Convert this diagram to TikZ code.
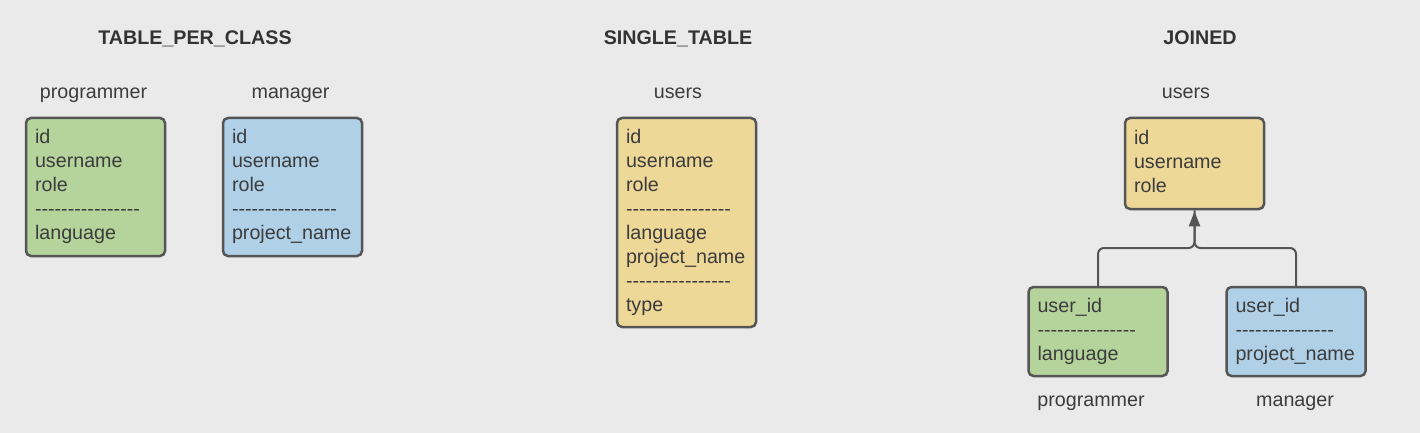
\documentclass[tikz,border=0pt]{standalone}
\usepackage{fontspec}
\setmainfont{Liberation Sans}[Ligatures=TeXOff]
\usetikzlibrary{arrows.meta}
\definecolor{bg}{HTML}{EAEAEA}
\definecolor{gfill}{HTML}{B4D49C}
\definecolor{bfill}{HTML}{AFD0E7}
\definecolor{yfill}{HTML}{EDD898}
\definecolor{edge}{HTML}{555555}
\definecolor{txt}{HTML}{3C3C3C}
\definecolor{ttl}{HTML}{333333}
\begin{document}
\begin{tikzpicture}[x=1pt,y=-1pt,
  tbl/.style={draw=edge, line width=2.5pt, rounded corners=5pt, align=left,
    inner xsep=9pt, inner ysep=0pt, text width=121pt, minimum width=139pt,
    text=txt, font=\fontsize{19.7}{24}\selectfont,
    execute at begin node=\strut, execute at end node=\strut},
  green/.style={tbl, fill=gfill},
  blue/.style={tbl, fill=bfill},
  yellow/.style={tbl, fill=yfill},
  title/.style={font=\bfseries\fontsize{19.7}{22}\selectfont, text=ttl, anchor=base},
  lbl/.style={font=\fontsize{19.7}{24}\selectfont, text=txt, anchor=base},
  conn/.style={draw=edge, line width=2pt, rounded corners=6pt},
]
\fill[bg] (0,0) rectangle (1420,433);
\useasboundingbox (0,0) rectangle (1420,433);

% TABLE_PER_CLASS
\node[title] (t1) at (195,45) {TABLE\_PER\_CLASS};
\node[lbl] (l1) at (93.5,99) {programmer};
\node[lbl] (l2) at (290.5,99) {manager};
\node[green, minimum height=138pt] (p1) at (95.5,187) {id\\username\\role\\----------------\\language};
\node[blue, minimum height=138pt] (m1) at (292.5,187) {id\\username\\role\\----------------\\project\_name};

% SINGLE_TABLE
\node[title] (t2) at (678,45) {SINGLE\_TABLE};
\node[lbl] (l3) at (678,99) {users};
\node[yellow, minimum height=209pt] (s1) at (686.5,222.5) {id\\username\\role\\----------------\\language\\project\_name\\----------------\\type};

% JOINED
\node[title] (t3) at (1200,45) {JOINED};
\node[lbl] (l4) at (1186,99) {users};
\node[yellow, minimum height=91pt] (u) at (1194.5,163.5) {id\\username\\role};
\node[green, minimum height=89pt] (jp) at (1098,331.5) {user\_id\\---------------\\language};
\node[blue, minimum height=89pt] (jm) at (1296,331.5) {user\_id\\---------------\\project\_name};
\node[lbl] (l5) at (1091,406) {programmer};
\node[lbl] (l6) at (1295,406) {manager};

\coordinate (j) at (1194.5,248);
\draw[conn] (jp.north) |- (j) -- (u.south);
\draw[conn, -{Triangle[length=15pt,width=11pt]}, shorten >=1pt] (jm.north) |- (j) -- (u.south);
\end{tikzpicture}
\end{document}
